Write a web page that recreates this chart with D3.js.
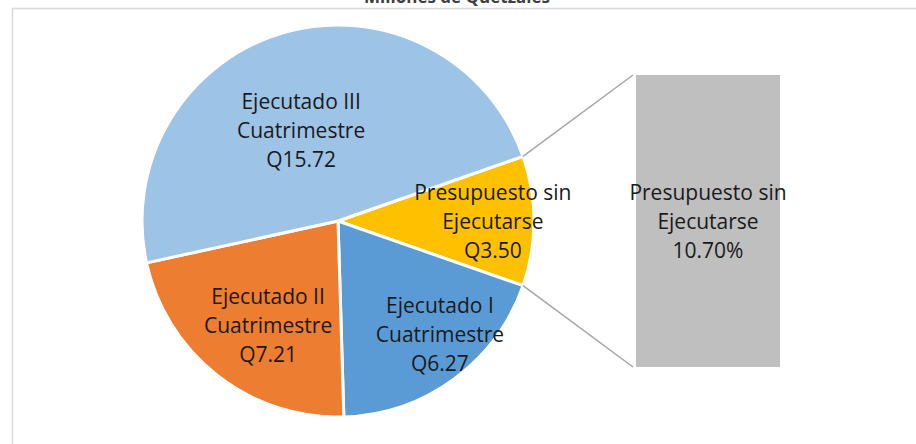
<!DOCTYPE html>
<html>
<head>
<meta charset="utf-8">
<script src="https://cdn.jsdelivr.net/npm/d3@7"></script>
<style>
    html, body { margin: 0; padding: 0; background: #fff; }
    svg { display: block; }
</style>
</head>
<body>
<div id="chart"></div>
<script>
// slices, clockwise starting from the "other" slice that feeds the bar
const categoryLines = [
    ["Presupuesto sin", "Ejecutarse"],
    ["Ejecutado I", "Cuatrimestre"],
    ["Ejecutado II", "Cuatrimestre"],
    ["Ejecutado III", "Cuatrimestre"]
];
const values = [3.50, 6.27, 7.21, 15.72];
const sliceColors = ["#FFC000", "#5B9BD5", "#ED7D31", "#9DC3E6"];

// second plot (bar) holds only the unexecuted budget
const barIndex = [0];
const titleText = "Millones de Quetzales";

const width = 916;
const height = 444;
const cx = 338, cy = 221, radius = 196;
const lineHeight = 29;
const fontSize = 21;

// label placement: fraction of radius and angle nudge (deg), like Excel's best fit
const labelPlace = [
    {r: 0.79, shift: 0},
    {r: 0.78, shift: -5.6},
    {r: 0.643, shift: -4.3},
    {r: 0.50, shift: -6.3}
];

const total = d3.sum(values);
const money = v => "Q" + d3.format(".2f")(v);
const pct = d3.format(".2%");

const svg = d3.select("#chart").append("svg")
    .attr("width", width)
    .attr("height", height)
    .style("font-family", "'Open Sans', sans-serif");

// chart area border (runs off the right and bottom of the picture)
svg.append("rect")
    .attr("x", 12.5)
    .attr("y", 8.5)
    .attr("width", width + 20)
    .attr("height", height + 20)
    .attr("fill", "none")
    .attr("stroke", "#D9D9D9")
    .attr("stroke-width", 1.5);

// title, mostly cut off at the top
svg.append("text")
    .attr("x", 457)
    .attr("y", 3)
    .attr("text-anchor", "middle")
    .attr("font-size", 17)
    .attr("font-weight", "bold")
    .attr("fill", "#404040")
    .text(titleText);

const otherAngle = values[0] / total * 2 * Math.PI;
const start = Math.PI / 2 - otherAngle / 2;

const pie = d3.pie()
    .sort(null)
    .value(d => d)
    .startAngle(start)
    .endAngle(start + 2 * Math.PI);

const arcs = pie(values);
const arc = d3.arc().innerRadius(0).outerRadius(radius);

const g = svg.append("g").attr("transform", `translate(${cx},${cy})`);

g.selectAll("path")
    .data(arcs)
    .join("path")
    .attr("d", arc)
    .attr("fill", (d, i) => sliceColors[i])
    .attr("stroke", "#fff")
    .attr("stroke-width", 3)
    .attr("stroke-linejoin", "round");

// bar of pie
const bar = {x0: 636, x1: 780};
const yBar = d3.scaleLinear()
    .domain([0, d3.sum(barIndex, i => values[i])])
    .range([367, 75]);

const barStack = d3.cumsum(barIndex.map(i => values[i]));
svg.append("g").selectAll("rect")
    .data(barIndex)
    .join("rect")
    .attr("x", bar.x0)
    .attr("width", bar.x1 - bar.x0)
    .attr("y", (d, k) => yBar(barStack[k]))
    .attr("height", (d, k) => yBar(barStack[k] - values[d]) - yBar(barStack[k]))
    .attr("fill", "#BFBFBF");

// connector lines from the "other" slice edges to the bar corners
const other = arcs[0];
const edgePoint = a => [cx + radius * Math.sin(a), cy - radius * Math.cos(a)];
const connectors = [
    {from: edgePoint(other.startAngle), to: [bar.x0 - 3, yBar.range()[1]]},
    {from: edgePoint(other.endAngle), to: [bar.x0 - 3, yBar.range()[0]]}
];
svg.append("g").selectAll("line")
    .data(connectors)
    .join("line")
    .attr("x1", d => d.from[0])
    .attr("y1", d => d.from[1])
    .attr("x2", d => d.to[0])
    .attr("y2", d => d.to[1])
    .attr("stroke", "#A6A6A6")
    .attr("stroke-width", 1.5);

function multiLine(sel, lines, x, y) {
    const n = lines.length;
    const t = sel.append("text")
        .attr("text-anchor", "middle")
        .attr("font-size", fontSize)
        .attr("fill", "#1A1A1A");
    lines.forEach((line, i) => {
        t.append("tspan")
            .attr("x", x)
            .attr("y", y + (i - (n - 1) / 2) * lineHeight)
            .attr("dy", "0.36em")
            .text(line);
    });
}

// slice labels
const labels = svg.append("g");
arcs.forEach((d, i) => {
    const mid = (d.startAngle + d.endAngle) / 2 + labelPlace[i].shift * Math.PI / 180;
    const r = radius * labelPlace[i].r;
    multiLine(labels, categoryLines[i].concat([money(d.value)]),
        cx + r * Math.sin(mid), cy - r * Math.cos(mid));
});

// bar label
barIndex.forEach((i, k) => {
    const mid = (yBar(barStack[k]) + yBar(barStack[k] - values[i])) / 2;
    multiLine(labels, categoryLines[i].concat([pct(values[i] / total)]),
        (bar.x0 + bar.x1) / 2, mid);
});
</script>
</body>
</html>
